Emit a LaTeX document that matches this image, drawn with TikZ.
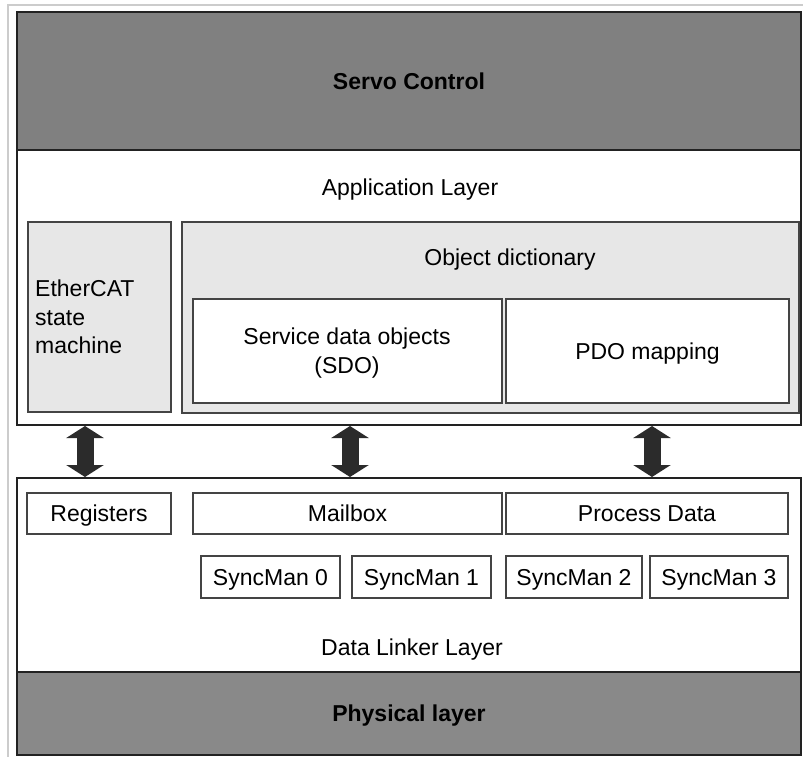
\documentclass[tikz,border=0pt]{standalone}
\usepackage{fontspec}
\setmainfont{Liberation Sans}
\usetikzlibrary{arrows.meta}
\definecolor{darkfill}{HTML}{808080}
\definecolor{physfill}{HTML}{898989}
\definecolor{lightfill}{HTML}{E7E7E7}
\definecolor{edge}{HTML}{222222}
\definecolor{inedge}{HTML}{444444}
\definecolor{arrowcol}{HTML}{2B2B2B}
\begin{document}
\begin{tikzpicture}[x=1pt,y=-1pt,
  font=\fontsize{23}{28.5}\selectfont,
  layerbox/.style={draw=edge,line width=2pt,inner sep=0pt,rectangle},
  innerbox/.style={draw=inedge,line width=1.4pt,inner sep=0pt,rectangle,
    text height=16.5pt,text depth=0pt},
  lbl/.style={inner sep=0pt,text height=16.5pt,text depth=0pt},
  bigarrow/.style={arrowcol,line width=17pt,
    {Triangle[length=12pt,width=37pt]}-{Triangle[length=12pt,width=37pt]}}]
\useasboundingbox[fill=white] (0,0) rectangle (803,756);
% faint outer frame
\draw[color=black!20,line width=1.2pt] (8,760) -- (8,5) -- (810,5);
% Servo control
\node[layerbox,fill=darkfill,minimum width=784pt,minimum height=138pt,
  text height=16.5pt,text depth=0pt,font=\fontsize{23}{28.5}\selectfont\bfseries]
  (servo) at (409,81) {Servo Control};
% Application layer
\node[layerbox,fill=white,minimum width=784pt,minimum height=275pt] (app) at (409,287.5) {};
\node[lbl] (applbl) at (410,187) {Application Layer};
\node[layerbox,draw=inedge,line width=1.4pt,fill=lightfill,minimum width=143pt,minimum height=190pt] (esm) at (99.5,317) {};
\node[inner sep=0pt,anchor=west,align=left] (esmlbl) at (35,317) {EtherCAT\\state\\machine};
\node[layerbox,draw=inedge,line width=1.4pt,fill=lightfill,minimum width=617pt,minimum height=191pt] (od) at (490.5,317.5) {};
\node[lbl] (odlbl) at (510,257) {Object dictionary};
\node[layerbox,draw=inedge,line width=1.4pt,fill=white,minimum width=309pt,minimum height=104pt] (sdo) at (347.5,351) {};
\node[inner sep=0pt,align=center] (sdolbl) at (347,353) {Service data objects\\(SDO)};
\node[innerbox,fill=white,minimum width=283pt,minimum height=104pt] (pdo) at (647.5,351) {PDO mapping};
% Data link layer
\node[layerbox,fill=white,minimum width=784pt,minimum height=194pt] (dll) at (409,575) {};
\node[innerbox,fill=white,minimum width=144pt,minimum height=41pt] (reg) at (99,513.5) {Registers};
\node[innerbox,fill=white,minimum width=309pt,minimum height=41pt] (mbox) at (347.5,513.5) {Mailbox};
\node[innerbox,fill=white,minimum width=282pt,minimum height=41pt] (pd) at (647,513.5) {Process Data};
\node[innerbox,fill=white,minimum width=139pt,minimum height=42pt] (sm0) at (270.5,577) {SyncMan 0};
\node[innerbox,fill=white,minimum width=139pt,minimum height=42pt] (sm1) at (421.5,577) {SyncMan 1};
\node[innerbox,fill=white,minimum width=136pt,minimum height=42pt] (sm2) at (574,577) {SyncMan 2};
\node[innerbox,fill=white,minimum width=138pt,minimum height=42pt] (sm3) at (719,577) {SyncMan 3};
\node[lbl] (dlllbl) at (412,647) {Data Linker Layer};
% Physical layer
\node[layerbox,fill=physfill,minimum width=784pt,minimum height=83pt,
  text height=16.5pt,text depth=0pt,font=\fontsize{23}{28.5}\selectfont\bfseries]
  (phy) at (409,713.5) {Physical layer};
% arrows
\coordinate (a1) at (85,450);
\coordinate (a2) at (350,450);
\coordinate (a3) at (652,450);
\draw[bigarrow] (app.south -| a1) -- (dll.north -| a1);
\draw[bigarrow] (app.south -| a2) -- (dll.north -| a2);
\draw[bigarrow] (app.south -| a3) -- (dll.north -| a3);
\end{tikzpicture}
\end{document}
